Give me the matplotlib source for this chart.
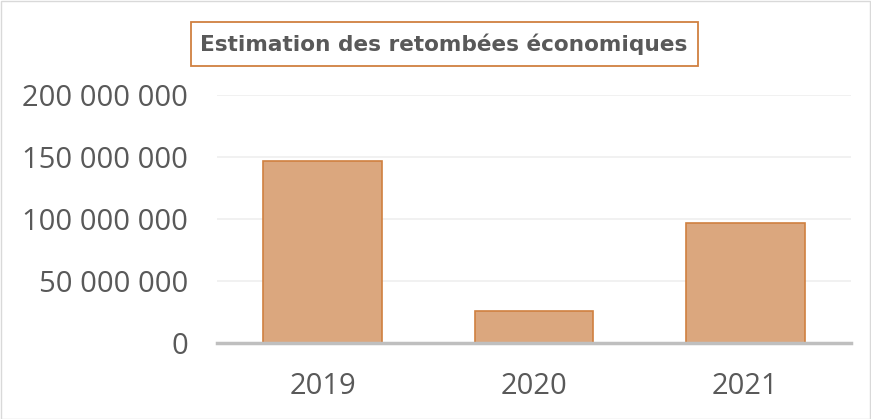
import numpy as np
import matplotlib.pyplot as plt
from matplotlib.patches import Rectangle

years = ["2019", "2020", "2021"]
values = [146_500_000, 25_800_000, 96_500_000]
y_ticks = [0, 50_000_000, 100_000_000, 150_000_000, 200_000_000]

BAR_COLOR = "#DBA77E"
EDGE_COLOR = "#D08040"
TEXT_COLOR = "#595959"
W, H = 871, 419

plt.rcParams['font.family'] = ['Open Sans', 'DejaVu Sans']

fig = plt.figure(figsize=(W/100, H/100), dpi=100)
ax = fig.add_axes([217/W, 1 - 343/H, (851-217)/W, (343-95)/H])

x = np.arange(len(years))
ax.bar(x, values, width=0.56, color=BAR_COLOR, edgecolor=EDGE_COLOR, linewidth=1.2, zorder=3)

ax.set_xlim(-0.5, len(years) - 0.5)
ax.set_ylim(0, 200_000_000)
ax.set_yticks(y_ticks)
ax.set_yticklabels([f"{v:,}".replace(",", " ") for v in y_ticks])
ax.set_xticks(x)
ax.set_xticklabels(years)
ax.tick_params(axis='both', length=0, labelsize=21, colors=TEXT_COLOR)
ax.tick_params(axis='y', pad=21)
ax.tick_params(axis='x', pad=21)

ax.grid(axis='y', color="#EFEFEF", linewidth=1.2, zorder=0)
for s in ["top", "right", "left"]:
    ax.spines[s].set_visible(False)
ax.spines["bottom"].set_color("#BFBFBF")
ax.spines["bottom"].set_linewidth(2.5)
ax.spines["bottom"].set_zorder(4)

# title in an outlined box
fig.patches.append(Rectangle((191/W, 1 - 66/H), (698-191)/W, 44/H,
                             transform=fig.transFigure, facecolor='white',
                             edgecolor=EDGE_COLOR, linewidth=1.3))
fig.text(444/W, 1 - 44/H, "Estimation des retombées économiques",
         ha='center', va='center', fontsize=15.6, fontweight='bold', color=TEXT_COLOR,
         family=['DejaVu Sans'])

fig.patches.append(Rectangle((0.5/W, 0.5/H), 1 - 1.5/W, 1 - 1.5/H,
                             transform=fig.transFigure, fill=False,
                             edgecolor="#D9D9D9", linewidth=1))

fig.savefig("out.png", dpi=100)
